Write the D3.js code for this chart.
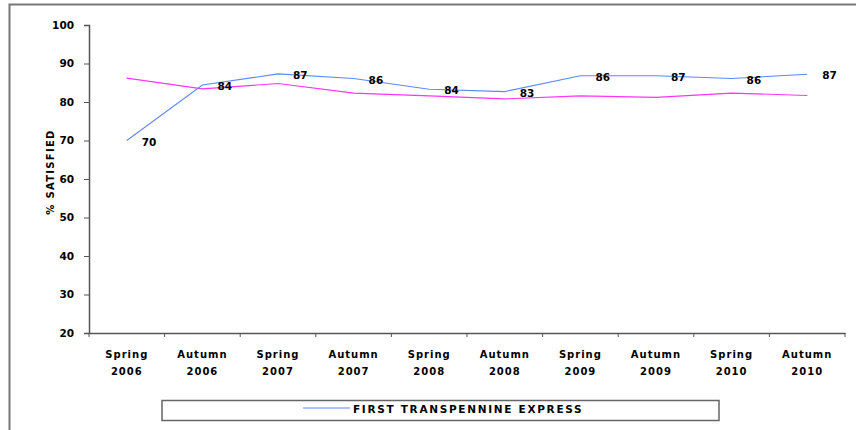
<!DOCTYPE html>
<html>
<head>
<meta charset="utf-8">
<script src="https://cdn.jsdelivr.net/npm/d3@7"></script>
<style>
  html, body { margin: 0; padding: 0; background: #fff; }
  svg { display: block; }
  text { font-family: "DejaVu Sans", Verdana, sans-serif; }
</style>
</head>
<body>
<svg id="chart" width="856" height="430"></svg>
<script>
const categories = ["Spring 2006","Autumn 2006","Spring 2007","Autumn 2007","Spring 2008","Autumn 2008","Spring 2009","Autumn 2009","Spring 2010","Autumn 2010"];
const tpeValues = [70, 84.4, 87.3, 86.1, 83.3, 82.7, 86.8, 86.8, 86.1, 87.2];
const tpeLabels = ["70","84","87","86","84","83","86","87","86","87"];
const otherValues = [86.2, 83.4, 84.8, 82.3, 81.6, 80.8, 81.6, 81.2, 82.3, 81.7];
const yTicks = [20, 30, 40, 50, 60, 70, 80, 90, 100];
const seriesName = "FIRST TRANSPENNINE EXPRESS";
const yTitle = "% SATISFIED";

(function () {
const svg = d3.select("#chart");

// outer frame
svg.append("path")
  .attr("d", "M9.5,440 V4.5 H870")
  .attr("fill", "none").attr("stroke", "#777").attr("stroke-width", 2);

const mLeft = 89, mRight = 845, mTop = 25, mBottom = 333;
const x = d3.scaleBand().domain(categories).range([mLeft, mRight]).paddingInner(0).paddingOuter(0);
const y = d3.scaleLinear().domain([20, 100]).range([mBottom, mTop]);
const cx = d => x(d) + x.bandwidth() / 2;

// y axis
const yAxis = svg.append("g").attr("transform", `translate(${mLeft},0)`)
  .call(d3.axisLeft(y).tickValues(yTicks).tickSize(5).tickPadding(10).tickFormat(d3.format("d")));
yAxis.select(".domain").attr("stroke", "#555").attr("stroke-width", 1.5);
yAxis.selectAll(".tick line").attr("stroke", "#555");
yAxis.selectAll("text").attr("font-size", 10.5).attr("font-weight", "bold").attr("fill", "#000")
  .attr("font-family", "DejaVu Sans, sans-serif");

// x axis
const xAxis = svg.append("g").attr("transform", `translate(0,${mBottom})`)
  .call(d3.axisBottom(x).tickSize(0).tickFormat(""));
xAxis.select(".domain").attr("stroke", "#555").attr("stroke-width", 1.5);
const xTickPos = categories.map(c => x(c)).concat([mRight]);
svg.append("g").selectAll("line").data(xTickPos).join("line")
  .attr("x1", d => d).attr("x2", d => d).attr("y1", mBottom).attr("y2", mBottom + 4)
  .attr("stroke", "#555");
const xl = svg.append("g").selectAll("text").data(categories).join("text")
  .attr("x", d => cx(d)).attr("text-anchor", "middle")
  .attr("font-size", 10).attr("font-weight", "bold").attr("fill", "#000")
  .attr("letter-spacing", 1);
xl.append("tspan").attr("x", d => cx(d)).attr("y", 358).text(d => d.split(" ")[0]);
xl.append("tspan").attr("x", d => cx(d)).attr("y", 375).text(d => d.split(" ")[1]);

// y title
svg.append("text")
  .attr("transform", `translate(54,172) rotate(-90)`)
  .attr("text-anchor", "middle")
  .attr("font-size", 10).attr("font-weight", "bold").attr("letter-spacing", 1.3)
  .text(yTitle);

// lines
const line = d3.line().x((d, i) => cx(categories[i])).y(d => y(d));
svg.append("path").datum(otherValues).attr("d", line)
  .attr("fill", "none").attr("stroke", "#ff33ff").attr("stroke-width", 1.1);
svg.append("path").datum(tpeValues).attr("d", line)
  .attr("fill", "none").attr("stroke", "#5f86ff").attr("stroke-width", 1.1);

// data labels
svg.append("g").selectAll("text").data(tpeValues).join("text")
  .attr("x", (d, i) => cx(categories[i]) + 15)
  .attr("y", d => y(d) + 5)
  .attr("font-size", 10.5).attr("font-weight", "bold").attr("fill", "#000")
  .text((d, i) => tpeLabels[i]);

// legend
svg.append("rect").attr("x", 162).attr("y", 400.5).attr("width", 557).attr("height", 20)
  .attr("fill", "#fff").attr("stroke", "#666").attr("stroke-width", 1.5);
svg.append("line").attr("x1", 303).attr("x2", 350).attr("y1", 408).attr("y2", 408)
  .attr("stroke", "#5f86ff").attr("stroke-width", 1.2);
svg.append("text").attr("x", 353).attr("y", 412.5)
  .attr("font-size", 10.5).attr("font-weight", "bold").attr("letter-spacing", 1.7)
  .attr("font-family", "Liberation Sans, Arial, sans-serif")
  .text(seriesName);
})();
</script>
</body>
</html>
